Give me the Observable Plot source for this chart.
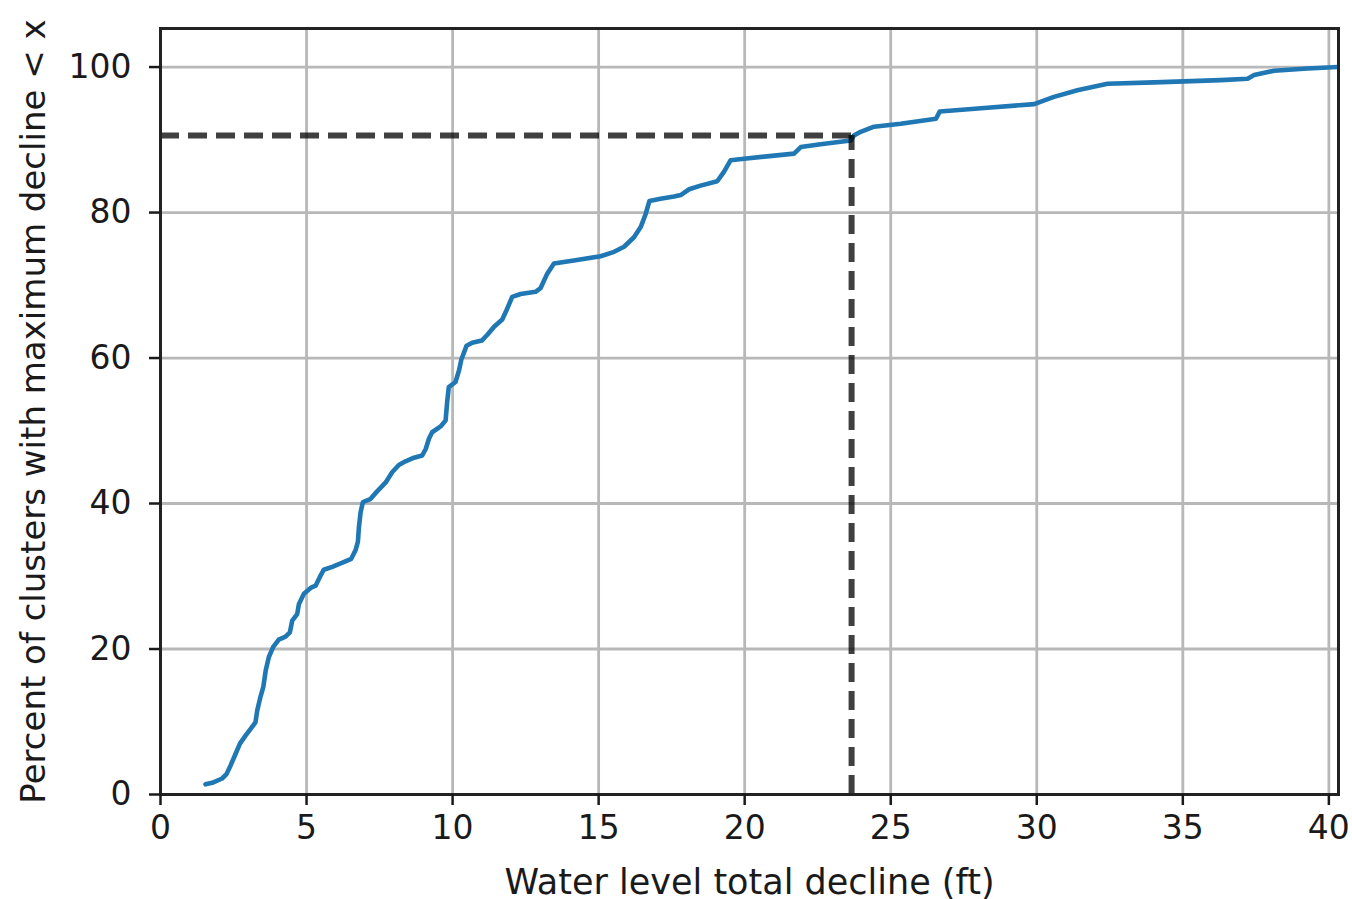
<!DOCTYPE html>
<html>
<head>
<meta charset="utf-8">
<script src="https://cdn.jsdelivr.net/npm/d3@7"></script>
<script src="https://cdn.jsdelivr.net/npm/@observablehq/plot@0.6"></script>
<style>
  html, body { margin: 0; padding: 0; background: #fff; }
  #chart { width: 1352px; height: 899px; }
</style>
</head>
<body>
<div id="chart"></div>
<script>
// Cumulative distribution
const decline = [1.54, 1.77, 2.11, 2.26, 2.40, 2.55, 2.72, 2.91, 3.08, 3.25, 3.31, 3.42, 3.52, 3.60, 3.71, 3.86, 4.05, 4.28, 4.43, 4.51,
  4.68, 4.74, 4.91, 5.14, 5.31, 5.48, 5.59, 5.88, 6.25, 6.53, 6.68, 6.76, 6.79, 6.85, 6.93, 7.18, 7.40, 7.71, 7.93, 8.16,
  8.39, 8.68, 8.96, 9.08, 9.19, 9.30, 9.59, 9.76, 9.82, 9.87, 10.10, 10.22, 10.30, 10.48, 10.67, 11.00, 11.19, 11.42, 11.70, 11.85,
  12.04, 12.33, 12.84, 13.01, 13.24, 13.47, 14.15, 15.07, 15.53, 15.87, 16.21, 16.44, 16.61, 16.74, 17.12, 17.58, 17.81, 18.10, 18.49, 19.06,
  19.29, 19.52, 19.98, 21.69, 21.92, 22.60, 23.63, 23.74, 23.97, 24.43, 25.34, 26.55, 26.68, 28.31, 29.91, 30.59, 31.39, 32.42, 34.02, 36.30,
  37.22, 37.44, 38.13, 39.27, 40.30];
const percent = [1.4, 1.6, 2.2, 2.8, 4.0, 5.4, 7.0, 8.1, 9.0, 9.9, 11.5, 13.4, 14.8, 17.0, 18.9, 20.3, 21.3, 21.7, 22.3, 23.9,
  24.8, 26.2, 27.6, 28.4, 28.7, 30.1, 30.9, 31.3, 31.9, 32.4, 33.6, 34.8, 36.6, 38.8, 40.2, 40.6, 41.6, 42.9, 44.3, 45.3,
  45.8, 46.3, 46.6, 47.5, 48.9, 49.8, 50.6, 51.4, 54.2, 56.0, 56.7, 58.3, 59.8, 61.7, 62.1, 62.4, 63.2, 64.3, 65.3, 66.6,
  68.4, 68.8, 69.1, 69.6, 71.6, 73.0, 73.4, 74.0, 74.6, 75.3, 76.6, 78.0, 79.8, 81.6, 81.9, 82.2, 82.4, 83.2, 83.7, 84.3,
  85.6, 87.2, 87.4, 88.1, 89.0, 89.4, 89.9, 90.6, 91.1, 91.8, 92.2, 92.9, 93.9, 94.4, 94.9, 95.9, 96.8, 97.7, 97.9, 98.2,
  98.4, 98.9, 99.5, 99.8, 100.0];

// Reference (dashed) marker
const refDecline = [23.66];
const refPercent = [90.6];

// Axis ticks and labels
const xTicks = [0, 5, 10, 15, 20, 25, 30, 35, 40];
const yTicks = [0, 20, 40, 60, 80, 100];
const xDomain = [0, 40.33];
const yDomain = [0, 105.3];
const xLabel = "Water level total decline (ft)";
const yLabel = "Percent of clusters with maximum decline < x";

const data = decline.map((d, i) => ({decline: d, percent: percent[i]}));

const chart = Plot.plot({
  width: 1352,
  height: 899,
  marginLeft: 160,
  marginRight: 14,
  marginTop: 28,
  marginBottom: 105,
  style: {fontFamily: "DejaVu Sans", color: "#1a1a1a", background: "#fff", overflow: "visible"},
  x: {domain: xDomain},
  y: {domain: yDomain},
  marks: [
    Plot.gridX(xTicks, {stroke: "#b8b8b8", strokeOpacity: 1, strokeWidth: 2.8}),
    Plot.gridY(yTicks, {stroke: "#b8b8b8", strokeOpacity: 1, strokeWidth: 2.8}),
    Plot.line(data, {x: "decline", y: "percent", stroke: "#1f77b4", strokeWidth: 4.6, strokeLinejoin: "round"}),
    Plot.ruleY(refPercent, {x1: 0, x2: refDecline[0], stroke: "#000", strokeOpacity: 0.75, strokeWidth: 6, strokeDasharray: "19,9"}),
    Plot.ruleX(refDecline, {y1: 0, y2: refPercent[0], stroke: "#000", strokeOpacity: 0.75, strokeWidth: 6, strokeDasharray: "19,9"}),
    Plot.frame({stroke: "#222", strokeWidth: 3}),
    Plot.axisX(xTicks, {tickSize: 11, tickPadding: 10, fontSize: 33, strokeWidth: 2.5, tickFormat: d => String(d), label: null}),
    Plot.axisY(yTicks, {tickSize: 11, tickPadding: 18, fontSize: 33, strokeWidth: 2.5, tickFormat: d => String(d), label: null}),
    Plot.text([xLabel], {frameAnchor: "bottom", dy: 99, lineAnchor: "bottom", textAnchor: "middle", fontSize: 35, fill: "#1a1a1a"}),
    Plot.text([yLabel], {frameAnchor: "left", dx: -116, rotate: -90, lineAnchor: "bottom", textAnchor: "middle", fontSize: 34, fill: "#1a1a1a"})
  ]
});
document.getElementById("chart").appendChild(chart);
</script>
</body>
</html>
